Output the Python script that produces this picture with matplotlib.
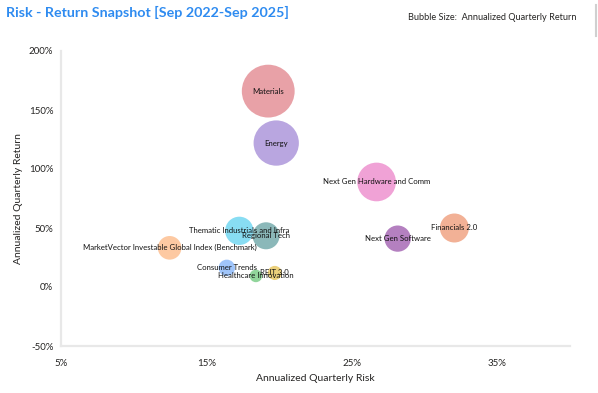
import matplotlib
matplotlib.use("Agg")
import matplotlib.pyplot as plt
from matplotlib.lines import Line2D
import numpy as np

# data (percent)
names = ["Materials", "Energy", "Next Gen Hardware and Comm", "Financials 2.0",
         "Next Gen Software", "Thematic Industrials and Infra", "Regional Tech",
         "MarketVector Investable Global Index (Benchmark)", "Consumer Trends",
         "Healthcare Innovation", "REIT 3.0"]
risk = [19.25, 19.8, 26.7, 32.05, 28.15, 17.26, 19.1, 12.47, 16.4, 18.4, 19.7]
ret = [166, 122, 89, 50, 41, 47.6, 43.4, 33.2, 16.2, 9.4, 11.9]
colors = ["#E8A1A7", "#B9A6E0", "#F0A2D6", "#F2B196", "#B480C0", "#88DDF3",
          "#8BB8B9", "#FDC9A2", "#A0C5FA", "#91D59B", "#EBD07C"]

x_ticks = [5, 15, 25, 35]
y_ticks = [-50, 0, 50, 100, 150, 200]

plt.rcParams["font.family"] = ["Lato", "DejaVu Sans"]
DPI = 100
fig = plt.figure(figsize=(5.98, 3.93), dpi=DPI)
ax = fig.add_axes([61 / 598, 1 - 346 / 393, (570 - 61) / 598, (346 - 51) / 393])

# bubble area proportional to return; radius in pixels -> marker size in pt^2
r_px = 2.05 * np.sqrt(np.array(ret))
sizes = (2 * r_px * 72 / DPI) ** 2
ax.scatter(risk, ret, s=sizes, c=colors, edgecolors="none", zorder=2)
for n, x, y in zip(names, risk, ret):
    ax.text(x, y, n, ha="center", va="center", fontsize=5.6, color="#111111", zorder=3)

ax.set_xlim(5, 40)
ax.set_ylim(-50, 200)
ax.set_xticks(x_ticks)
ax.set_xticklabels([f"{t}%" for t in x_ticks])
ax.set_yticks(y_ticks)
ax.set_yticklabels([f"{t}%" for t in y_ticks])
ax.tick_params(length=0, labelsize=7, colors="#252423", pad=9)
ax.tick_params(axis="y", pad=5.5)
for s in ("top", "right"):
    ax.spines[s].set_visible(False)
for s in ("left", "bottom"):
    ax.spines[s].set_color("#E8E8E8")
    ax.spines[s].set_linewidth(1.6)
ax.set_xlabel("Annualized Quarterly Risk", fontsize=7.5, color="#252423", labelpad=5)
ax.set_ylabel("Annualized Quarterly Return", fontsize=7.5, color="#252423", labelpad=4)

fig.text(6 / 598, 1 - 12 / 393, "Risk - Return Snapshot [Sep 2022-Sep 2025]",
         fontsize=10.3, weight="bold", color="#2E8BF0", va="center")
fig.text(408 / 598, 1 - 17 / 393, "Bubble Size:  Annualized Quarterly Return",
         fontsize=6.6, color="#252423", va="center")
# thin grey scrollbar sliver at the top-right edge
fig.add_artist(Line2D([596 / 598, 596 / 598], [1 - 5 / 393, 1 - 36 / 393],
                      transform=fig.transFigure, color="#D0D0D0", lw=1.5))

fig.savefig("out.png", dpi=DPI)
